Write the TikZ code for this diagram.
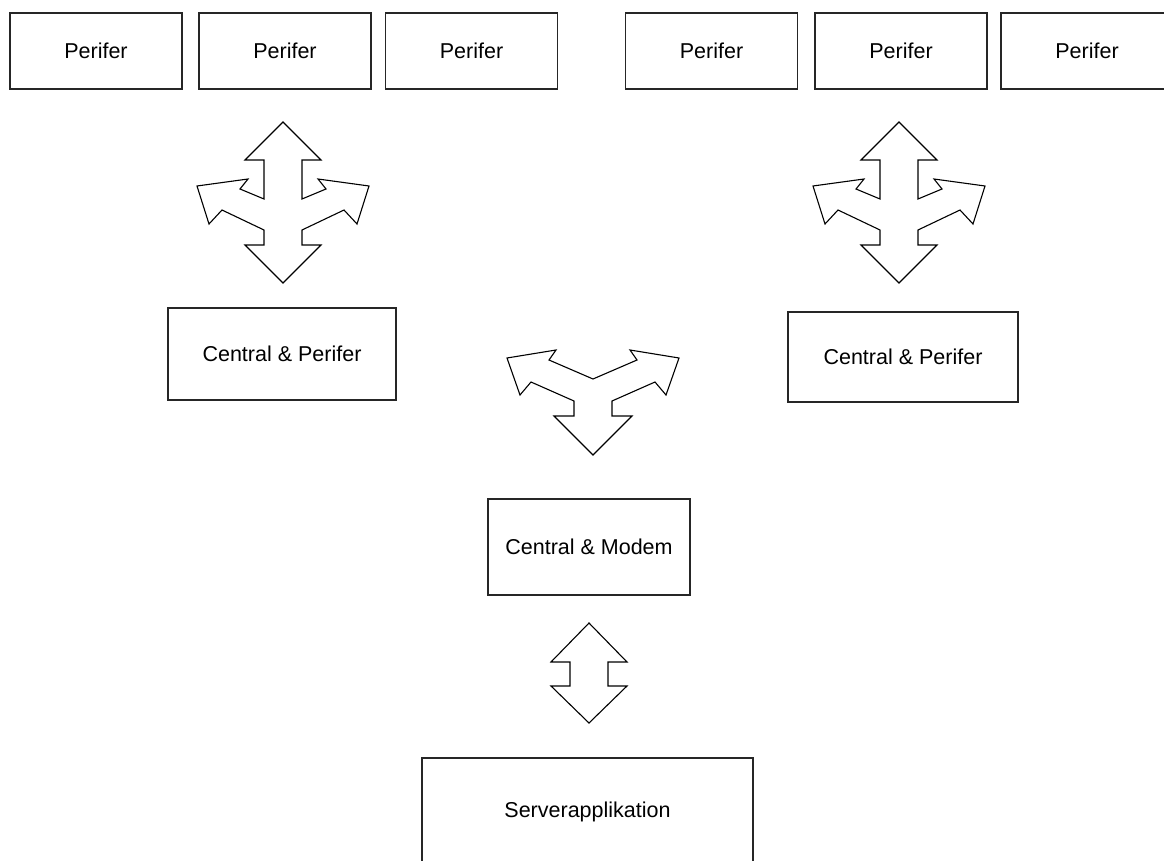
\documentclass[tikz,border=0pt]{standalone}
\usepackage{fontspec}
\setmainfont{Liberation Sans}

\tikzset{
  box/.style={draw=black!85, line width=1.8pt, inner sep=0pt,
    font=\fontsize{21.5}{26}\selectfont},
  perifer/.style={box, minimum width=172pt, minimum height=76pt},
  blockarrow/.style={draw=black, line width=1.1pt, line join=miter, fill=white},
  % arrow with four heads: up, down and two sideways
  fourway/.pic={
    \draw[blockarrow] (0,-80) -- (38,-42) -- (19,-42) -- (19,-3) -- (43,-13)
      -- (35,-23) -- (86,-16) -- (74,22) -- (61,8) -- (19,28) -- (19,43)
      -- (38,43) -- (0,81) -- (-38,43) -- (-19,43) -- (-19,28) -- (-61,8)
      -- (-74,22) -- (-86,-16) -- (-35,-23) -- (-43,-13) -- (-19,-3)
      -- (-19,-42) -- (-38,-42) -- cycle;
  },
  % arrow with three heads
  threeway/.pic={
    \draw[blockarrow] (0,-21) -- (44,-40) -- (37,-50) -- (86,-42) -- (73,-5)
      -- (62,-18) -- (19,1) -- (19,16) -- (39,16) -- (0,55) -- (-39,16)
      -- (-19,16) -- (-19,1) -- (-62,-18) -- (-73,-5) -- (-86,-42)
      -- (-37,-50) -- (-44,-40) -- cycle;
  },
  % up and down
  twoway/.pic={
    \draw[blockarrow] (0,-50) -- (38,-11) -- (19,-11) -- (19,13) -- (38,13)
      -- (0,50) -- (-38,13) -- (-19,13) -- (-19,-11) -- (-38,-11) -- cycle;
  }
}

\begin{document}
\begin{tikzpicture}[x=1pt, y=-1pt]
	\useasboundingbox (0,0) rectangle (1164,861);
	\clip (0,0) rectangle (1164,861);

	% peripherals
	\node[perifer] (p1) at (96,51) {Perifer};
	\node[perifer] (p2) at (285,51) {Perifer};
	\node[perifer] (p3) at (471.5,51) {Perifer};
	\node[perifer] (p4) at (711.5,51) {Perifer};
	\node[perifer] (p5) at (901,51) {Perifer};
	\node[perifer] (p6) at (1087,51) {Perifer};

	% centrals
	\node[box, minimum width=228pt, minimum height=92pt] (cpl) at (282,354) {Central \& Perifer};
	\node[box, minimum width=230pt, minimum height=90pt] (cpr) at (903,357) {Central \& Perifer};
	\node[box, minimum width=202pt, minimum height=96pt] (cm) at (589,547) {Central \& Modem};
	\node[box, minimum width=331pt, minimum height=108pt] (srv) at (587.5,812) {Serverapplikation};

	% block arrows
	\coordinate (hubl) at (283,202);
	\coordinate (hubr) at (899,202);
	\coordinate (hubm) at (593,400);
	\coordinate (link) at (589,673);
	\pic at (hubl) {fourway};
	\pic at (hubr) {fourway};
	\pic at (hubm) {threeway};
	\pic at (link) {twoway};
\end{tikzpicture}
\end{document}
